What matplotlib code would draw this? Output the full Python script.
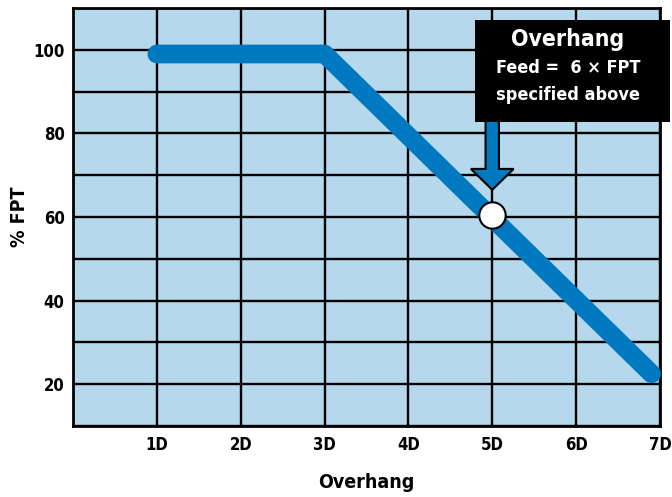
import numpy as np
import matplotlib
matplotlib.use('Agg')
import matplotlib.pyplot as plt
from matplotlib.patches import Rectangle, FancyArrow

# chart data
overhang = [1, 3, 6.9]
fpt = [99, 99, 22.5]
x_ticks = [1, 2, 3, 4, 5, 6, 7]
x_labels = ['1D', '2D', '3D', '4D', '5D', '6D', '7D']
y_ticks = [20, 40, 60, 80, 100]
marker_point = (5, 60.5)

BG = '#b5d8ed'
LINE = '#0079c1'

plt.rcParams['font.family'] = ['DejaVu Sans']
plt.rcParams['font.stretch'] = 'condensed'
plt.rcParams['font.weight'] = 'bold'

fig = plt.figure(figsize=(6.72, 4.97), dpi=100)
ax = fig.add_axes([0.1086, 0.1429, 0.8735, 0.8410])
ax.set_facecolor(BG)
ax.set_xlim(0, 7)
ax.set_ylim(10, 110)

# grid
ax.set_xticks(x_ticks)
ax.set_xticklabels(x_labels)
ax.set_yticks(y_ticks)
ax.set_yticks(np.arange(10, 111, 10), minor=True)
ax.grid(True, which='major', axis='both', color='black', lw=1.7)
ax.grid(True, which='minor', axis='y', color='black', lw=1.7)
ax.set_axisbelow(True)
ax.tick_params(which='both', length=0)
ax.tick_params(axis='x', pad=7, labelsize=12)
ax.tick_params(axis='y', pad=6, labelsize=12)
for s in ax.spines.values():
    s.set_linewidth(2.0)

ax.plot(overhang, fpt, color=LINE, lw=13.5, solid_capstyle='round',
        solid_joinstyle='round', zorder=3, clip_on=False)

ax.set_xlabel('Overhang', fontsize=14, fontweight='bold', labelpad=14)
ax.set_ylabel('% FPT', fontsize=14, fontweight='bold', labelpad=3)

# callout box
ax.add_patch(Rectangle((0.685, 0.727), 0.332, 0.244, transform=ax.transAxes,
                       facecolor='black', edgecolor='none', clip_on=False, zorder=5))
ax.text(0.843, 0.925, 'Overhang', transform=ax.transAxes, color='white',
        fontsize=16.5, fontweight='bold', ha='center', va='center', zorder=6)
ax.text(0.843, 0.857, 'Feed =  6 × FPT', transform=ax.transAxes, color='white',
        fontsize=13, fontweight='bold', ha='center', va='center', zorder=6)
ax.text(0.843, 0.792, 'specified above', transform=ax.transAxes, color='white',
        fontsize=13, fontweight='bold', ha='center', va='center', zorder=6)

# arrow down to the point
ax.add_patch(FancyArrow(5, 84, 0, -17.5, width=0.16, head_width=0.51,
                        head_length=5, length_includes_head=True,
                        facecolor=LINE, edgecolor='black', lw=1.5, zorder=4))

ax.plot(*marker_point, marker='o', ms=19, mfc='white', mec='black',
        mew=1.5, zorder=5)

fig.savefig('out.png', dpi=100)
